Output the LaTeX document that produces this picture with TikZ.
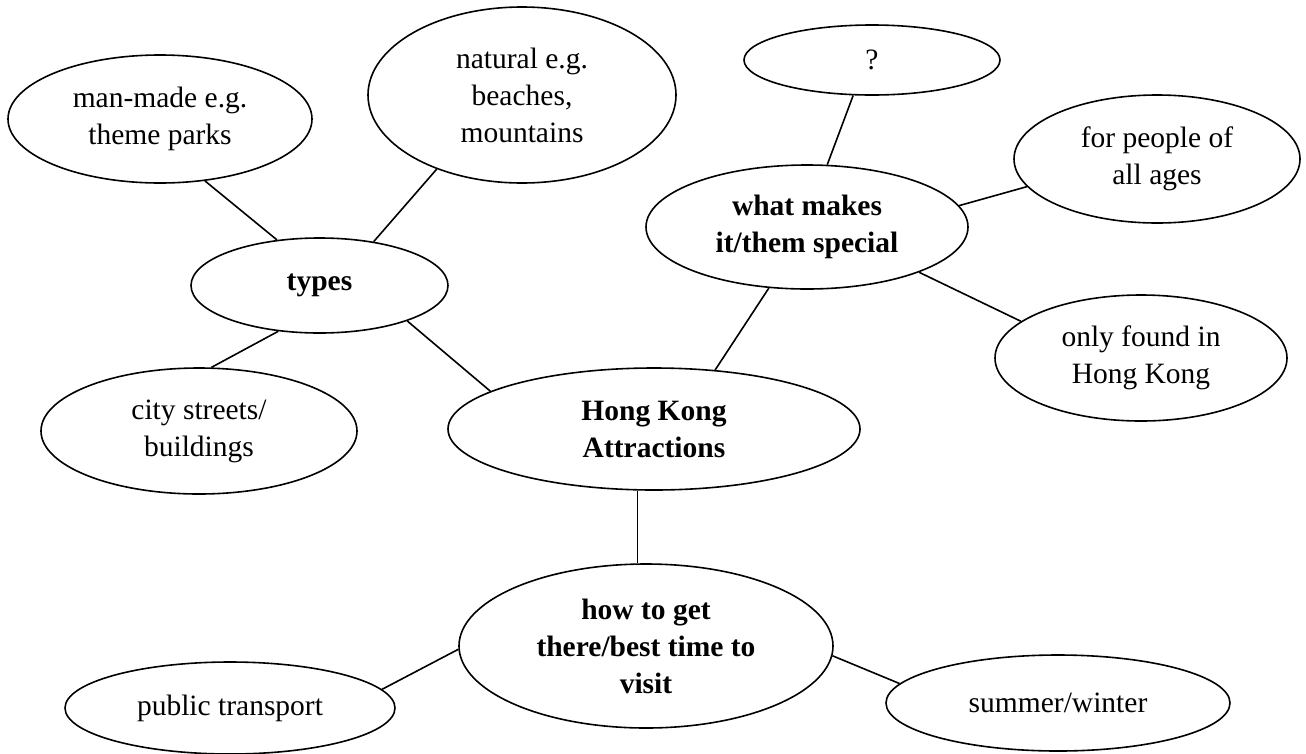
\documentclass[tikz,border=0pt]{standalone}
\usepackage{fontspec}
\setmainfont{Liberation Serif}
\usetikzlibrary{shapes.geometric}
\tikzset{
  bub/.style={ellipse, draw, line width=1.6pt, inner sep=0pt, align=center,
    font=\fontsize{29.5}{37}\selectfont},
  bbub/.style={bub, font=\fontsize{29.5}{37}\selectfont\bfseries},
  link/.style={line width=1.6pt}
}
\begin{document}
\begin{tikzpicture}[x=1pt,y=-1pt]
\useasboundingbox (0,0) rectangle (1306,753);
% nodes
\node[bub, minimum width=304pt, minimum height=128pt] (manmade) at (160,119) {man-made e.g.\\theme parks};
\node[bub, minimum width=308pt, minimum height=176pt] (natural) at (522,95) {natural e.g.\\beaches,\\mountains};
\node[bub, minimum width=256pt, minimum height=70pt] (q) at (872,60) {?};
\node[bub, minimum width=286pt, minimum height=128pt] (people) at (1157,159) {for people of\\all ages};
\node[bbub, minimum width=322pt, minimum height=124pt] (special) at (807,227) {what makes\\it/them special};
\node[bbub, minimum width=257pt, minimum height=95pt] (types) at (319.5,285.5) {types};
\node[bub, minimum width=292pt, minimum height=126pt] (only) at (1141,358) {only found in\\Hong Kong};
\node[bub, minimum width=316pt, minimum height=126pt] (city) at (199,431) {city streets/\\buildings};
\node[bbub, minimum width=412pt, minimum height=122pt] (hk) at (654,429) {Hong Kong\\Attractions};
\node[bbub, minimum width=374pt, minimum height=164pt] (how) at (646,646) {how to get\\there/best time to\\visit};
\node[bub, minimum width=330pt, minimum height=92pt] (public) at (230,708) {public transport};
\node[bub, minimum width=344pt, minimum height=96pt] (summer) at (1058,703) {summer/winter};
% connectors
\draw[link] (manmade.-54) -- (types.133);
\draw[link] (natural.-139) -- (types.39);
\draw[link] (types.-132) -- (city.79);
\draw[link] (types.-22) -- (hk.167);
\draw[link] (hk.44.5) -- (special.-122);
\draw[link] (q.-118) -- (special.72);
\draw[link] (special.8) -- (people.-168);
\draw[link] (special.-22) -- (only.163);
\coordinate (hkb) at (hk.-105.6);
\draw[link] (hkb) -- (hkb |- how.north);
\draw[link] (how.-179) -- (public.7);
\draw[link] (how.-3.7) -- (summer.173);
\end{tikzpicture}
\end{document}
